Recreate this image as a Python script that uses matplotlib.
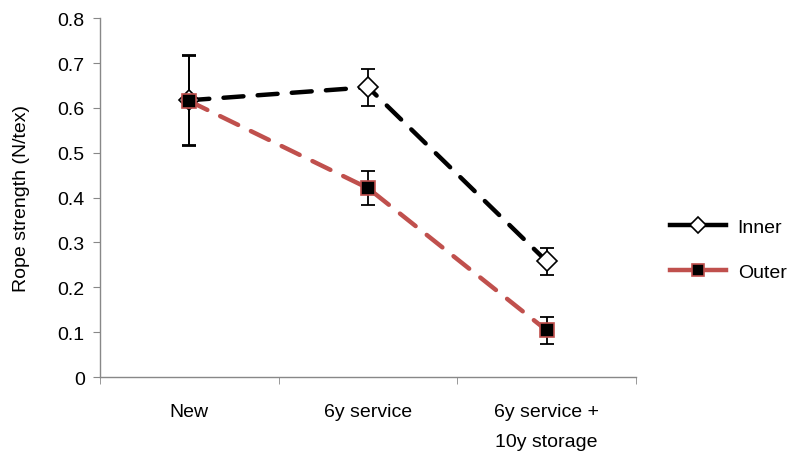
import matplotlib
matplotlib.use("Agg")
import matplotlib.pyplot as plt
from matplotlib.lines import Line2D
import numpy as np

plt.rcParams['font.family'] = ['Liberation Sans', 'DejaVu Sans']

# 数据
categories = ["New", "6y service", "6y service +\n10y storage"]
inner = [0.617, 0.646, 0.258]
inner_err = [0.10, 0.041, 0.030]
outer = [0.615, 0.421, 0.104]
outer_err = [0.10, 0.038, 0.030]

fs = 14
fig = plt.figure(figsize=(7.94, 4.56), dpi=100)
ax = fig.add_axes([0.126, 0.171, 0.675, 0.787])

x = np.arange(len(categories))
red = '#C0504D'

# 误差线
ax.errorbar(x, inner, yerr=inner_err, fmt='none', ecolor='black', elinewidth=1.3, capsize=5, capthick=1.3, zorder=2)
ax.errorbar(x, outer, yerr=outer_err, fmt='none', ecolor='black', elinewidth=1.3, capsize=5, capthick=1.3, zorder=2)

ax.plot(x, inner, color='black', lw=3.2, dashes=(4.5, 3.2), dash_capstyle='round', marker='D', markersize=10,
        markerfacecolor='white', markeredgecolor='black', markeredgewidth=1.2, zorder=3)
ax.plot(x, outer, color=red, lw=3.2, dashes=(4.5, 3.2), dash_capstyle='round', marker='s', markersize=10.5,
        markerfacecolor='black', markeredgecolor=red, markeredgewidth=1.2, zorder=4)

ax.set_xlim(-0.5, 2.5)
ax.set_ylim(0, 0.8)
ax.set_yticks(np.arange(0, 0.81, 0.1))
ax.set_yticklabels(['0'] + ['%.1f' % v for v in np.arange(0.1, 0.81, 0.1)])
ax.set_xticks(x)
ax.set_xticklabels(categories, linespacing=2.0)
ax.set_xticks([-0.5, 0.5, 1.5, 2.5], minor=True)
ax.tick_params(axis='x', which='major', length=0, pad=19, labelsize=fs)
ax.tick_params(axis='x', which='minor', length=5, color='#888888', direction='out')
ax.tick_params(axis='y', length=5, color='#888888', labelsize=fs, pad=6)
ax.set_ylabel('Rope strength (N/tex)', fontsize=fs, labelpad=20)

for s in ['top', 'right']:
    ax.spines[s].set_visible(False)
for s in ['left', 'bottom']:
    ax.spines[s].set_color('#888888')
    ax.spines[s].set_linewidth(1.0)

handles = [
    Line2D([], [], color='black', lw=3.2, marker='D', markersize=8, markerfacecolor='white',
           markeredgecolor='black', markeredgewidth=1.2),
    Line2D([], [], color=red, lw=3.2, marker='s', markersize=9, markerfacecolor='black',
           markeredgecolor=red, markeredgewidth=1.2),
]
leg = ax.legend(handles, ['Inner', 'Outer'], loc='center left', bbox_to_anchor=(1.03, 0.355),
                frameon=False, fontsize=fs, handlelength=2.9, handletextpad=0.6, labelspacing=1.4)

fig.savefig('out.png', dpi=100)
